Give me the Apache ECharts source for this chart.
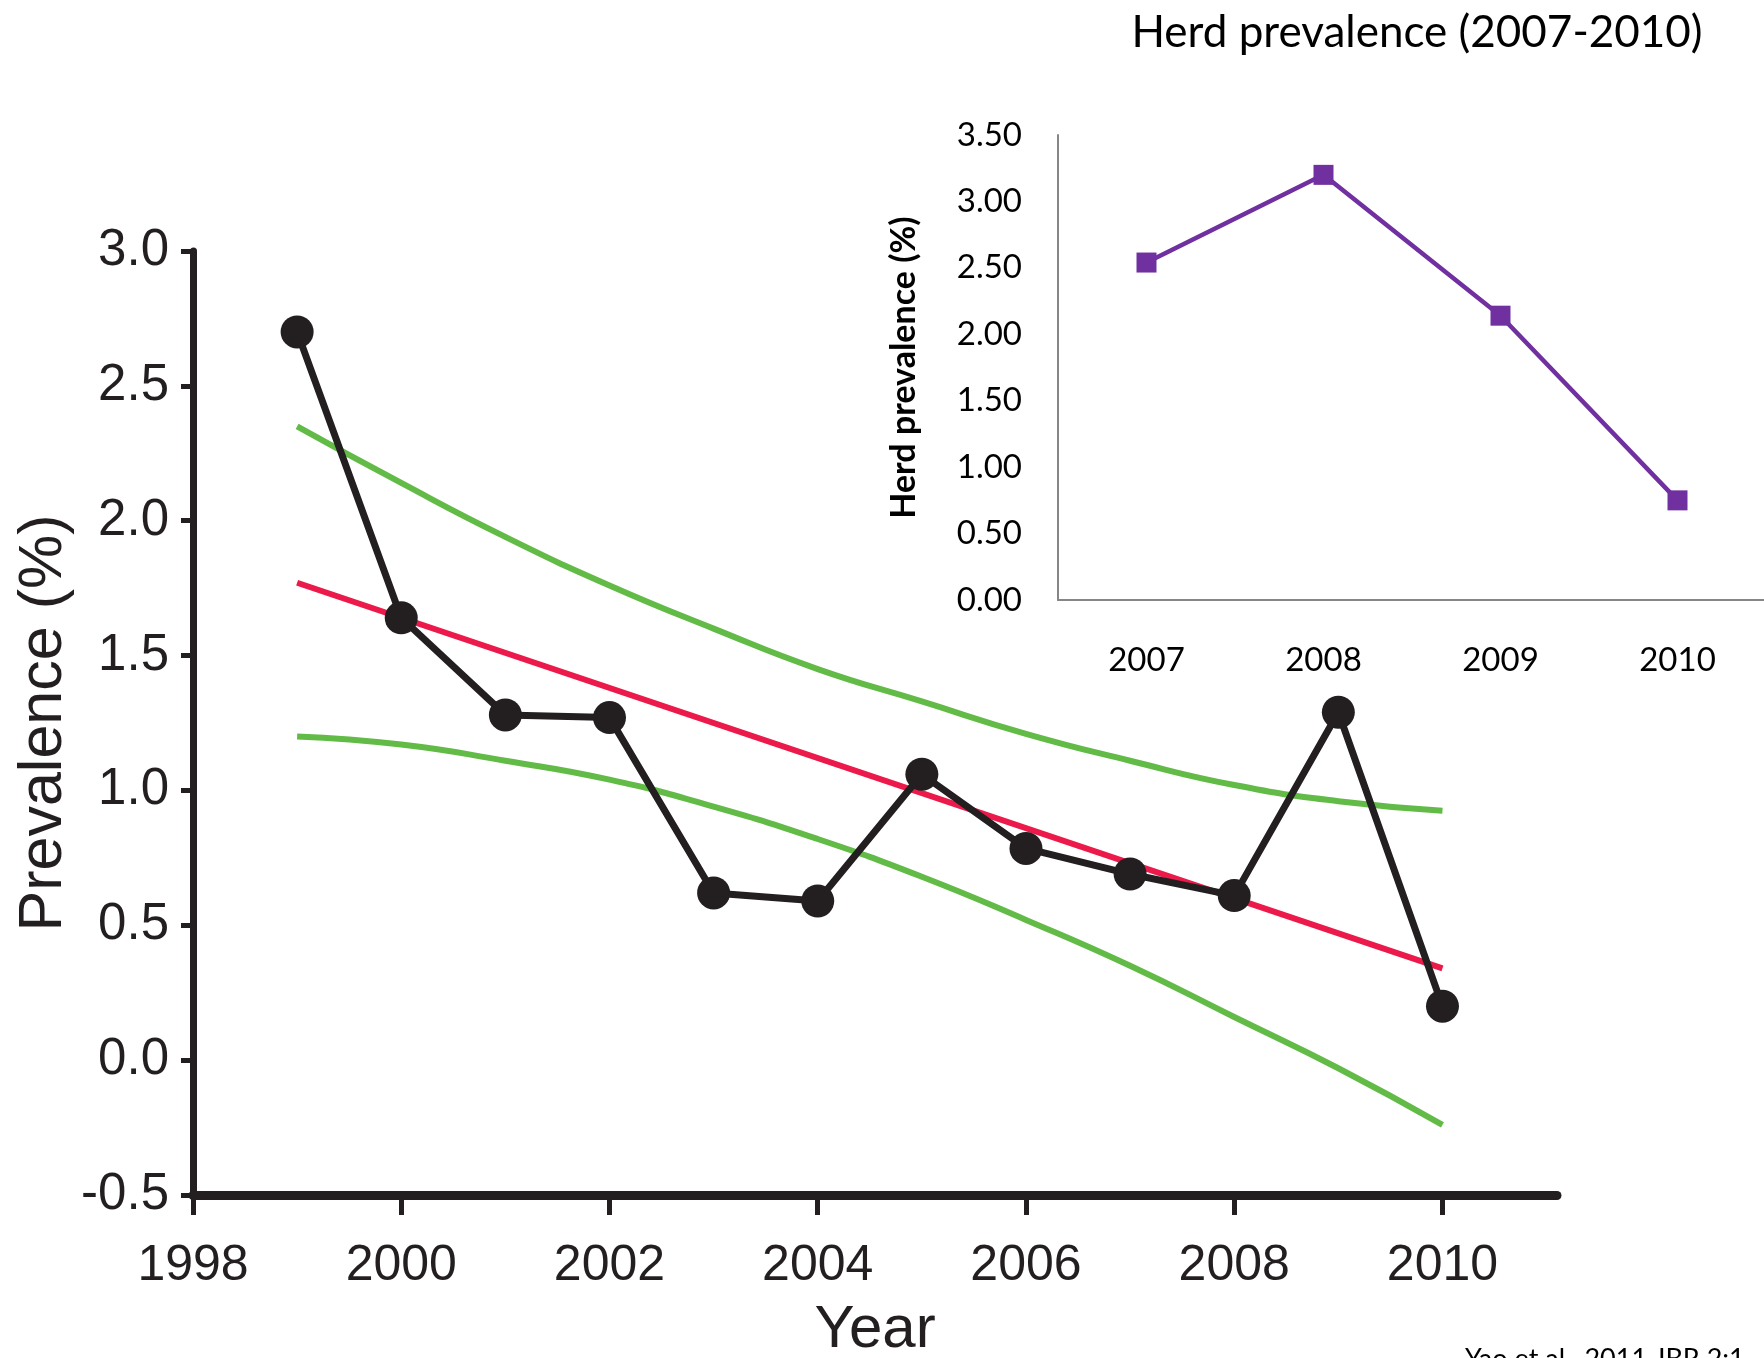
<!DOCTYPE html>
<html>
<head>
<meta charset="utf-8">
<script src="https://cdn.jsdelivr.net/npm/echarts@6/dist/echarts.min.js"></script>
<style>
html,body{margin:0;padding:0;background:#fff;}
#c{width:1764px;height:1358px;}
</style>
</head>
<body>
<div id="c"></div>
<script>
// Main chart data
const years = [1999, 2000, 2001, 2002, 2003, 2004, 2005, 2006, 2007, 2008, 2009, 2010];
const prevalence = [2.70, 1.64, 1.28, 1.27, 0.62, 0.59, 1.06, 0.785, 0.69, 0.61, 1.29, 0.20];
const trendYears = [1999, 2010];
const trendValues = [1.77, 0.34];
const upperBand = [2.35, 2.14, 1.94, 1.76, 1.60, 1.45, 1.33, 1.21, 1.11, 1.02, 0.96, 0.925];
const lowerBand = [1.20, 1.17, 1.11, 1.04, 0.94, 0.82, 0.68, 0.52, 0.35, 0.16, -0.03, -0.24];
const xTicks = [1998, 2000, 2002, 2004, 2006, 2008, 2010];

// Inset data
const insetYears = ['2007', '2008', '2009', '2010'];
const herdPrevalence = [2.54, 3.20, 2.14, 0.75];

const pair = (xs, ys) => xs.map((x, i) => [x, ys[i]]);

const chart = echarts.init(document.getElementById('c'));
const armFont = '"Liberation Sans", Arial, sans-serif';
const calFont = 'Lato, "Open Sans", sans-serif';

chart.setOption({
  animation: false,
  backgroundColor: '#ffffff',
  title: {
    text: 'Herd prevalence (2007-2010)',
    left: 1412, top: 6, textAlign: 'center',
    textStyle: { fontFamily: calFont, fontSize: 44, fontWeight: 'normal', color: '#000' }
  },
  graphic: [{
    type: 'text', left: 1465, top: 1346,
    style: { text: 'Yao et al., 2011 JBR 2:1', font: '27px Lato, sans-serif', fill: '#000' }
  }],
  grid: [
    { left: 193, top: 251, width: 1364, height: 944, outerBoundsMode: 'none', containLabel: false },
    { left: 1058, top: 135, width: 708, height: 465, outerBoundsMode: 'none', containLabel: false }
  ],
  xAxis: [{
    gridIndex: 0, type: 'value', min: 1998, max: 2011.1, interval: 2,
    name: 'Year', nameLocation: 'middle', nameGap: 105, nameMoveOverlap: false,
    nameTextStyle: { fontFamily: armFont, fontSize: 60, color: '#231f20' },
    axisLine: { onZero: false, lineStyle: { color: '#231f20', width: 9 } },
    axisTick: { length: 20, inside: false, customValues: xTicks, lineStyle: { color: '#231f20', width: 5 } },
    axisLabel: { customValues: xTicks, margin: 46, fontFamily: armFont, fontSize: 50, color: '#231f20',
      formatter: v => String(v) },
    splitLine: { show: false }
  }, {
    gridIndex: 1, type: 'category', data: insetYears, boundaryGap: true,
    axisLine: { lineStyle: { color: '#868686', width: 2 } },
    axisTick: { show: false },
    axisLabel: { margin: 44, fontFamily: calFont, fontSize: 33, color: '#000' },
    splitLine: { show: false }
  }],
  yAxis: [{
    gridIndex: 0, type: 'value', min: -0.5, max: 3.0, interval: 0.5,
    name: 'Prevalence (%)', nameLocation: 'middle', nameGap: 118, nameRotate: 90, nameMoveOverlap: false,
    nameTextStyle: { fontFamily: armFont, fontSize: 61, color: '#231f20' },
    axisLine: { show: true, onZero: false, lineStyle: { color: '#231f20', width: 7 } },
    axisTick: { show: true, length: 12, lineStyle: { color: '#231f20', width: 5 } },
    axisLabel: { margin: 24, fontFamily: armFont, fontSize: 51, color: '#231f20',
      formatter: v => v.toFixed(1) },
    splitLine: { show: false }
  }, {
    gridIndex: 1, type: 'value', min: 0, max: 3.5, interval: 0.5,
    name: 'Herd prevalence (%)', nameLocation: 'middle', nameGap: 137, nameRotate: 90, nameMoveOverlap: false,
    nameTextStyle: { fontFamily: calFont, fontSize: 34, fontWeight: 'bold', color: '#000' },
    axisLine: { show: true, lineStyle: { color: '#868686', width: 2 } },
    axisTick: { show: false },
    axisLabel: { margin: 36, fontFamily: calFont, fontSize: 33, color: '#000',
      formatter: v => v.toFixed(2) },
    splitLine: { show: false }
  }],
  series: [{
    type: 'line', xAxisIndex: 0, yAxisIndex: 0, data: pair(years, upperBand),
    smooth: 0.5, showSymbol: false, lineStyle: { color: '#62bb46', width: 6 }, z: 2
  }, {
    type: 'line', xAxisIndex: 0, yAxisIndex: 0, data: pair(years, lowerBand),
    smooth: 0.5, showSymbol: false, lineStyle: { color: '#62bb46', width: 6 }, z: 2
  }, {
    type: 'line', xAxisIndex: 0, yAxisIndex: 0, data: pair(trendYears, trendValues),
    showSymbol: false, lineStyle: { color: '#ec1a4b', width: 6 }, z: 3
  }, {
    type: 'line', xAxisIndex: 0, yAxisIndex: 0, data: pair(years, prevalence),
    symbol: 'circle', symbolSize: 33, showSymbol: true,
    itemStyle: { color: '#231f20' },
    lineStyle: { color: '#231f20', width: 7 }, z: 4
  }, {
    type: 'line', xAxisIndex: 1, yAxisIndex: 1, data: herdPrevalence,
    symbol: 'rect', symbolSize: 20, showSymbol: true,
    itemStyle: { color: '#7030a0' },
    lineStyle: { color: '#7030a0', width: 4.5 }, z: 4
  }]
});
</script>
</body>
</html>
